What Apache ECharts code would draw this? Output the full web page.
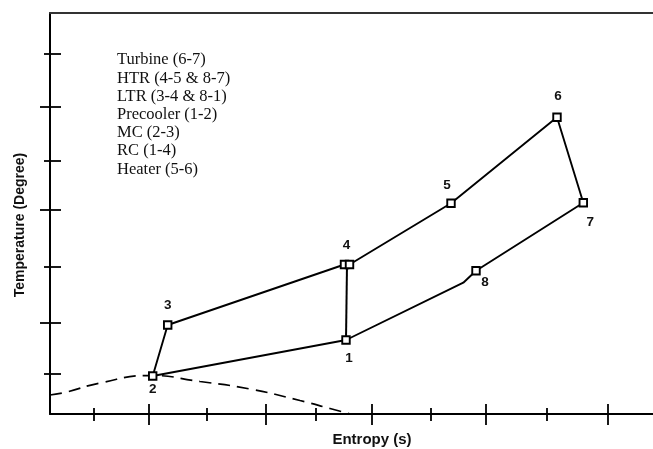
<!DOCTYPE html>
<html>
<head>
<meta charset="utf-8">
<script src="https://cdn.jsdelivr.net/npm/echarts@6/dist/echarts.min.js"></script>
<style>
html,body{margin:0;padding:0;background:#fff;}
#chart{width:653px;height:449px;}
</style>
</head>
<body>
<div id="chart"></div>
<script>
// ---- data (arbitrary entropy / temperature units) ----
const xTicksMajor = [9.9, 21.6, 32.2, 43.6, 55.8];
const xTicksMinor = [4.4, 15.7, 26.6, 38.1, 49.7];
const yTicksMajor = [9.1, 20.4, 30.7];
const yTicksMinor = [4.0, 14.7, 25.3, 36.0];

// cycle path 2-3-4-5-6-7-8-1-2
const cycleNames  = ['2', '3', '4', '', '5', '6', '7', '8', '', '1', '2'];
const cycleS      = [10.27, 11.77, 29.45, 29.95, 40.1, 50.7, 53.33, 42.6, 41.33, 29.6, 10.27];
const cycleT      = [3.8, 8.9, 14.95, 14.95, 21.07, 29.67, 21.13, 14.33, 13.13, 7.4, 3.8];
const cycleMarked = [1, 1, 1, 1, 1, 1, 1, 1, 0, 1, 0];

// recompressor 1-4
const rcS = [29.6, 29.7];
const rcT = [7.4, 14.95];

// saturation dome (dashed)
const domeS = [0, 1.5, 5, 10, 15, 20, 25, 28, 30];
const domeT = [1.9, 2.15, 3.1, 3.85, 3.25, 2.5, 1.35, 0.55, 0];

const processNotes = [
  'Turbine (6-7)',
  'HTR (4-5 & 8-7)',
  'LTR (3-4 & 8-1)',
  'Precooler (1-2)',
  'MC (2-3)',
  'RC (1-4)',
  'Heater (5-6)'
];

const xMin = 0, xMax = 60.3, yMin = 0, yMax = 40.1;

// ---- styles ----
const labelOffsets = {
  '1': [3, 18], '2': [0, 13], '3': [0, -20], '4': [2, -19],
  '5': [-4, -18], '6': [1, -21], '7': [7, 20], '8': [9, 12]
};
const INK = '#000';

const cycleData = cycleS.map((s, i) => {
  const name = cycleNames[i];
  const item = { value: [s, cycleT[i]] };
  if (!cycleMarked[i]) { item.symbol = 'none'; }
  if (name) {
    item.label = {
      show: true, formatter: name, position: 'inside',
      offset: labelOffsets[name], color: '#111',
      fontFamily: 'Liberation Sans, Arial, sans-serif', fontWeight: 'bold', fontSize: 13.5
    };
  }
  return item;
});

function xAx(opts) {
  return Object.assign({
    type: 'value', min: xMin, max: xMax, position: 'bottom',
    axisLabel: { show: false }, splitLine: { show: false },
    axisLine: { show: false }
  }, opts);
}
function yAx(opts) {
  return Object.assign({
    type: 'value', min: yMin, max: yMax, position: 'left',
    axisLabel: { show: false }, splitLine: { show: false },
    axisLine: { show: false }
  }, opts);
}
const tickStyle = { color: INK, width: 1.8 };

const option = {
  animation: false,
  backgroundColor: '#fff',
  title: {
    text: processNotes.join('\n'),
    left: 117, top: 51, padding: 0,
    textStyle: {
      fontFamily: 'Liberation Serif, Times New Roman, serif',
      fontWeight: 'normal', fontSize: 16.5, lineHeight: 18.2, color: '#111'
    }
  },
  grid: { left: 50, right: 0, top: 13, bottom: 35, containLabel: false, outerBoundsMode: 'none' },
  xAxis: [
    xAx({
      axisLine: { show: true, lineStyle: { color: INK, width: 2 } },
      axisTick: { show: true, inside: true, length: 10, lineStyle: tickStyle, customValues: xTicksMajor },
      name: 'Entropy (s)', nameLocation: 'middle', nameGap: 18,
      nameTextStyle: {
        fontFamily: 'Liberation Sans, Arial, sans-serif', fontWeight: 'bold',
        fontSize: 15, color: '#111', padding: [0, 0, 0, 41]
      }
    }),
    xAx({ axisTick: { show: true, inside: true, length: 6, lineStyle: tickStyle, customValues: xTicksMinor } }),
    xAx({ axisTick: { show: true, inside: false, length: 11, lineStyle: tickStyle, customValues: xTicksMajor } }),
    xAx({ axisTick: { show: true, inside: false, length: 7, lineStyle: tickStyle, customValues: xTicksMinor } }),
    xAx({
      position: 'top',
      axisLine: { show: true, lineStyle: { color: '#333', width: 2 } },
      axisTick: { show: false }
    })
  ],
  yAxis: [
    yAx({
      axisLine: { show: true, lineStyle: { color: INK, width: 2 } },
      axisTick: { show: true, inside: true, length: 11, lineStyle: tickStyle,
                  customValues: yTicksMajor.concat(yTicksMinor) },
      name: 'Temperature (Degree)', nameLocation: 'middle', nameGap: 23, nameRotate: 90,
      nameTextStyle: {
        fontFamily: 'Liberation Sans, Arial, sans-serif', fontWeight: 'bold',
        fontSize: 14, color: '#111', padding: [0, 23, 0, 0]
      }
    }),
    yAx({ axisTick: { show: true, inside: false, length: 10, lineStyle: tickStyle, customValues: yTicksMajor } }),
    yAx({ axisTick: { show: true, inside: false, length: 6, lineStyle: tickStyle, customValues: yTicksMinor } })
  ],
  series: [
    {
      type: 'line', name: 'dome', xAxisIndex: 0, yAxisIndex: 0,
      data: domeS.map((s, i) => [s, domeT[i]]),
      smooth: true, symbol: 'none', silent: true,
      lineStyle: { color: INK, width: 1.7, type: [12, 7] }
    },
    {
      type: 'line', name: 'rc', xAxisIndex: 0, yAxisIndex: 0,
      data: rcS.map((s, i) => [s, rcT[i]]),
      symbol: 'none', silent: true,
      lineStyle: { color: INK, width: 2 }
    },
    {
      type: 'line', name: 'cycle', xAxisIndex: 0, yAxisIndex: 0,
      data: cycleData,
      symbol: 'rect', symbolSize: 7.5, showAllSymbol: true, silent: true,
      lineStyle: { color: INK, width: 1.9 },
      itemStyle: { color: '#fff', borderColor: INK, borderWidth: 1.9 },
      z: 3
    }
  ]
};

const chart = echarts.init(document.getElementById('chart'), null, { renderer: 'canvas' });
chart.setOption(option);
</script>
</body>
</html>
